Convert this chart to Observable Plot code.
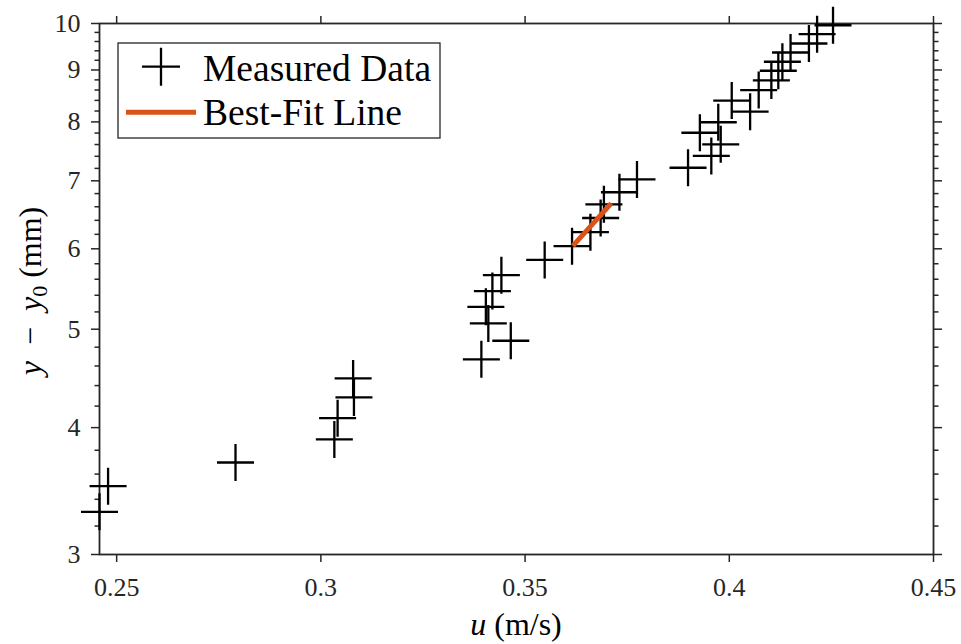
<!DOCTYPE html>
<html><head><meta charset="utf-8">
<script src="https://cdn.jsdelivr.net/npm/d3@7"></script>
<script src="https://cdn.jsdelivr.net/npm/@observablehq/plot@0.6"></script>
<style>body{margin:0;background:#fff}#chart{width:961px;height:644px}
#chart svg text{font-family:'Liberation Serif','Times New Roman',serif !important}</style>
</head><body><div id="chart"></div>
<script>
// Measured data: u (m/s) and y - y0 (mm)
const u = [0.2458, 0.2479, 0.2791, 0.3033, 0.3041, 0.3081, 0.3079, 0.3393, 0.3465, 0.3410,
           0.3404, 0.3420, 0.3442, 0.3548, 0.3615, 0.3660, 0.3685, 0.3693, 0.3731, 0.3774,
           0.3899, 0.3956, 0.3979, 0.3928, 0.3973, 0.4051, 0.4006, 0.4072, 0.4103, 0.4120,
           0.4130, 0.4150, 0.4195, 0.4215, 0.4254];
const yMinusY0 = [3.305, 3.503, 3.696, 3.894, 4.087, 4.283, 4.472, 4.670, 4.871, 5.066,
                  5.260, 5.452, 5.652, 5.851, 6.036, 6.231, 6.434, 6.636, 6.821, 7.022,
                  7.210, 7.407, 7.604, 7.806, 7.994, 8.188, 8.396, 8.599, 8.790, 8.984,
                  9.169, 9.364, 9.557, 9.760, 9.960];
// Best-fit line endpoints
const fitU = [0.3617, 0.3711];
const fitY = [6.04, 6.65];
// Axis ticks
const xTicks = [0.25, 0.3, 0.35, 0.4, 0.45];
const xTickLabels = ["0.25", "0.3", "0.35", "0.4", "0.45"];
const yTicks = [3, 4, 5, 6, 7, 8, 9, 10];
const yTickLabels = ["3", "4", "5", "6", "7", "8", "9", "10"];
const yMinorTicks = [3.2, 3.4, 3.6, 3.8, 4.2, 4.4, 4.6, 4.8, 5.2, 5.4, 5.6, 5.8,
                     6.2, 6.4, 6.6, 6.8, 7.2, 7.4, 7.6, 7.8, 8.2, 8.4, 8.6, 8.8,
                     9.2, 9.4, 9.6, 9.8];
const legendLabels = ["Measured Data", "Best-Fit Line"];

const measured = u.map((d, i) => ({u: d, y: yMinusY0[i]}));
const fit = fitU.map((d, i) => ({u: d, y: fitY[i]}));

const AX = "#262626";
const ORANGE = "#D95319";
const FONT = "'Liberation Serif', 'Times New Roman', serif";
const crossSymbol = {
  draw(context, size) {
    const r = Math.sqrt(size / Math.PI);
    context.moveTo(-r, 0); context.lineTo(r, 0);
    context.moveTo(0, -r); context.lineTo(0, r);
  }
};
const axOpts = {label: null, stroke: AX, strokeWidth: 1.5, fontFamily: FONT, fontSize: 26, fill: AX};

const plot = Plot.plot({
  width: 961, height: 644,
  marginLeft: 99, marginRight: 28, marginTop: 23, marginBottom: 90,
  x: {domain: [0.2458, 0.45]},
  y: {type: "log", domain: [3, 10]},
  style: {fontFamily: FONT, fontSize: "26px", color: AX, background: "white", overflow: "visible"},
  marks: [
    Plot.axisX({...axOpts, anchor: "bottom", ticks: xTicks, tickFormat: d => xTickLabels[xTicks.indexOf(d)], tickSize: 8, tickPadding: 15}),
    Plot.axisX({...axOpts, anchor: "top", ticks: xTicks, tickFormat: () => "", tickSize: 8}),
    Plot.axisY({...axOpts, anchor: "left", ticks: yTicks, tickFormat: d => yTickLabels[yTicks.indexOf(d)], tickSize: 8, tickPadding: 11}),
    Plot.axisY({...axOpts, anchor: "left", ticks: yMinorTicks, tickFormat: () => "", tickSize: 4.5}),
    Plot.axisY({...axOpts, anchor: "right", ticks: yTicks, tickFormat: () => "", tickSize: 8}),
    Plot.axisY({...axOpts, anchor: "right", ticks: yMinorTicks, tickFormat: () => "", tickSize: 4.5}),
    Plot.frame({stroke: AX, strokeWidth: 1.8}),
    Plot.dot(measured, {x: "u", y: "y", r: 18.5, symbol: crossSymbol, stroke: "black", fill: "none", strokeWidth: 2.3}),
    Plot.line(fit, {x: "u", y: "y", stroke: ORANGE, strokeWidth: 5, strokeLinecap: "butt"})
  ]
});
document.getElementById("chart").appendChild(plot);

const svg = d3.select(plot);
svg.selectAll("text").style("font-family", FONT);
// x label
const xl = svg.append("text").attr("x", 516).attr("y", 635).attr("text-anchor", "middle")
  .attr("font-family", FONT).attr("font-size", 32).attr("fill", "black");
xl.append("tspan").attr("font-style", "italic").text("u");
xl.append("tspan").text(" (m/s)");
// y label
const yl = svg.append("text").attr("transform", "translate(41,291) rotate(-90)").attr("text-anchor", "middle")
  .attr("font-family", FONT).attr("font-size", 32).attr("fill", "black");
yl.append("tspan").attr("font-style", "italic").text("y");
yl.append("tspan").text("\u2002\u2212\u2002");
yl.append("tspan").attr("font-style", "italic").text("y");
yl.append("tspan").attr("font-size", 22).attr("dy", 6).text("0");
yl.append("tspan").attr("dy", -6).text(" (mm)");

// legend
const lg = svg.append("g").attr("font-family", FONT).attr("font-size", 37.5).attr("fill", "black").attr("text-anchor", "start");
lg.append("rect").attr("x", 118).attr("y", 43).attr("width", 322).attr("height", 95)
  .attr("fill", "white").attr("stroke", AX).attr("stroke-width", 1.3);
lg.append("path").attr("d", "M142,66.7H180M161,47.7V85.7").attr("stroke", "black").attr("stroke-width", 2.3).attr("fill", "none");
lg.append("text").attr("x", 203).attr("y", 81).attr("text-anchor", "start").text(legendLabels[0]);
lg.append("line").attr("x1", 126).attr("x2", 196).attr("y1", 112.3).attr("y2", 112.3).attr("stroke", ORANGE).attr("stroke-width", 5);
lg.append("text").attr("x", 203).attr("y", 125).attr("text-anchor", "start").text(legendLabels[1]);
</script>
</body></html>
